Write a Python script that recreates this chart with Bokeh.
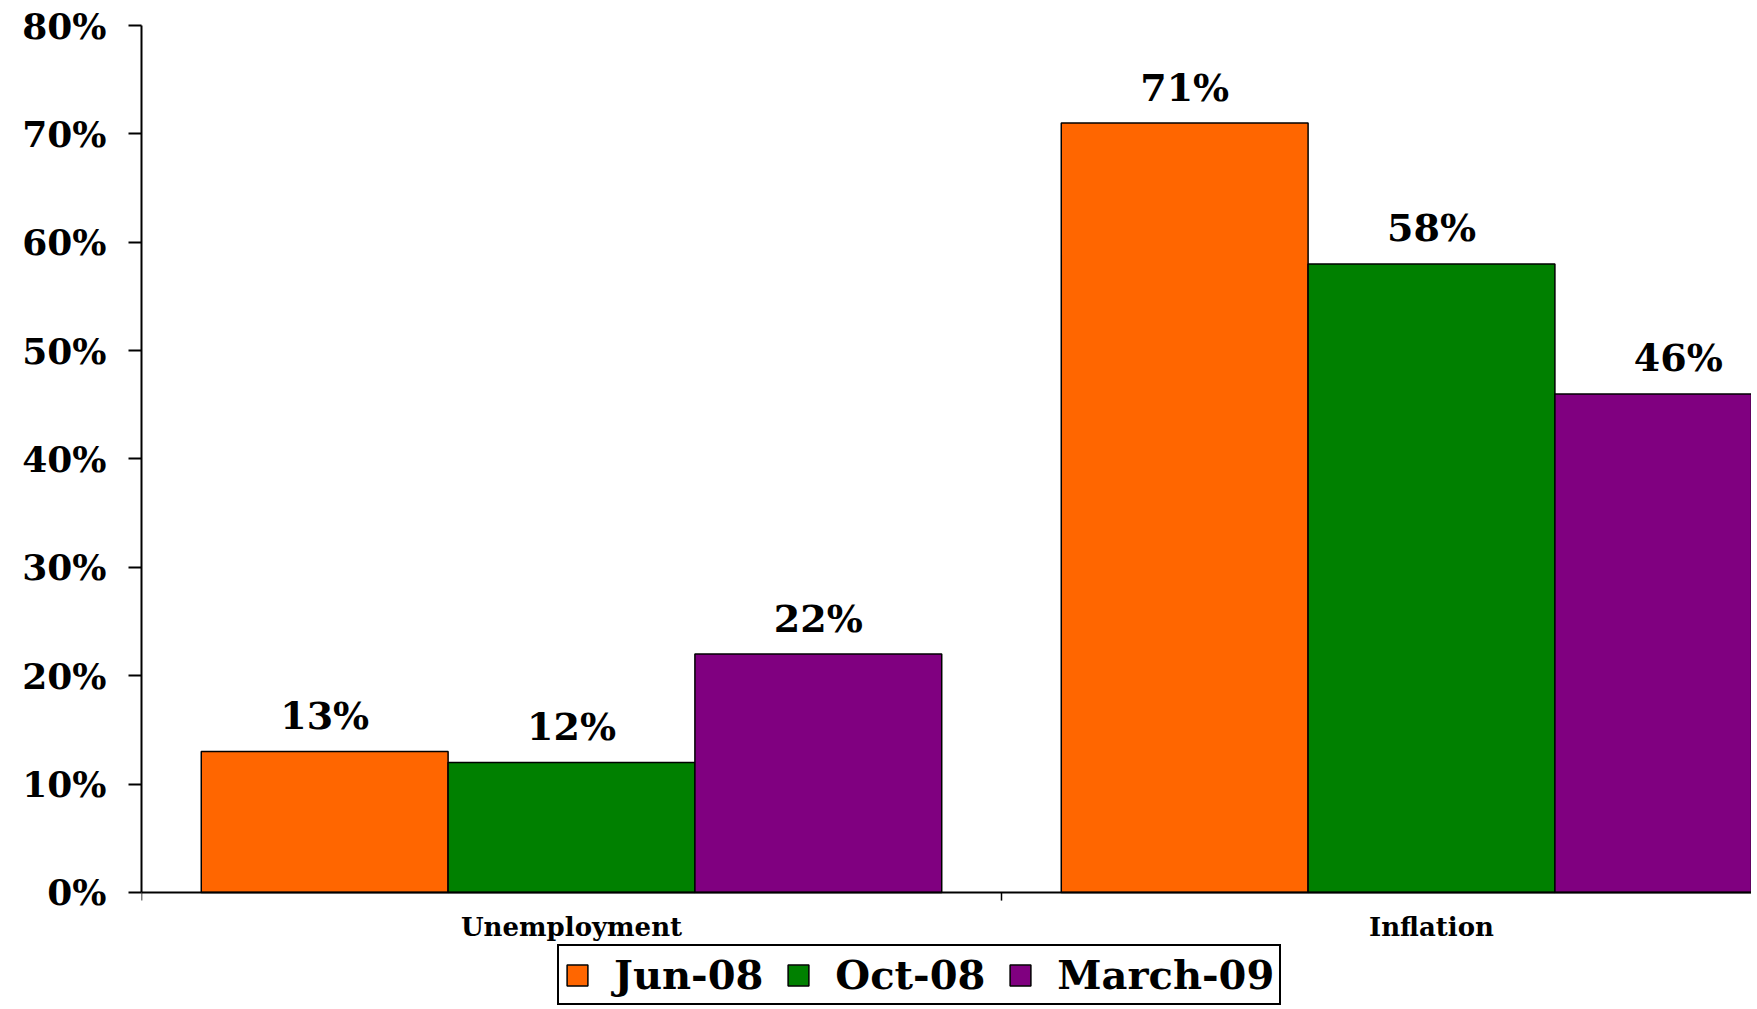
from bokeh.plotting import figure
from bokeh.models import Range1d, FixedTicker, PrintfTickFormatter, ColumnDataSource, Legend, LegendItem, Span
from bokeh.core.properties import value
from bokeh.embed import file_html
from bokeh.resources import INLINE

categories = ["Unemployment", "Inflation"]
series = ["Jun-08", "Oct-08", "March-09"]
jun08 = [13, 71]
oct08 = [12, 58]
mar09 = [22, 46]
y_ticks = [0, 10, 20, 30, 40, 50, 60, 70, 80]

colors = ["#FF6600", "#008000", "#800080"]
bar_w = 0.287
offsets = [-bar_w, 0.0, bar_w]

FONT = "DejaVu Serif"

# frame runs to the bottom of the canvas; the value axis starts at 0 (page y ~892)
p = figure(width=1751, height=1005,
           x_range=Range1d(0, 1610 / 860), y_range=Range1d(-10.43, 80),
           x_axis_location=None,
           output_backend="svg", toolbar_location=None,
           min_border_left=141, min_border_top=25, min_border_right=0, min_border_bottom=0)
p.outline_line_color = None
p.xgrid.visible = False
p.ygrid.visible = False
p.background_fill_color = "white"
p.border_fill_color = "white"

renderers = []
for name, vals, col, off in zip(series, [jun08, oct08, mar09], colors, offsets):
    src = ColumnDataSource(dict(
        x=[i + 0.5 + off for i in range(len(categories))],
        top=vals,
        lab=[f"{v}%" for v in vals],
    ))
    r = p.vbar(x="x", top="top", width=bar_w, bottom=0, source=src,
               fill_color=col, line_color="black", line_width=1.5)
    p.text(x="x", y="top", text="lab", source=src, text_align="center",
           text_baseline="alphabetic", y_offset=-36,
           text_font=value(FONT), text_font_style="bold", text_font_size="38px",
           text_color="black")
    renderers.append(r)

# category axis: baseline, boundary ticks and category names
p.add_layout(Span(location=0, dimension="width", line_color="black", line_width=2))
bounds = list(range(len(categories) + 1))
tick_len = 0.75
p.segment(x0=bounds, y0=[0] * len(bounds), x1=bounds, y1=[-tick_len] * len(bounds),
          line_color="black", line_width=1.5)
p.text(x=[i + 0.5 for i in range(len(categories))], y=[0] * len(categories), text=categories,
       text_align="center", text_baseline="top", y_offset=20,
       text_font=value(FONT), text_font_style="bold", text_font_size="26px",
       text_color="black")

# y axis
yax = p.yaxis[0]
yax.bounds = (0, 80)
yax.ticker = FixedTicker(ticks=y_ticks)
yax.formatter = PrintfTickFormatter(format="%d%%")
yax.major_tick_out = 13
yax.major_tick_in = 0
yax.minor_tick_out = 0
yax.minor_tick_in = 0
yax.axis_line_color = "black"
yax.axis_line_width = 2
yax.major_tick_line_color = "black"
yax.major_tick_line_width = 2
yax.major_label_standoff = 22
yax.major_label_text_font = FONT
yax.major_label_text_font_style = "bold"
yax.major_label_text_font_size = "36px"
yax.major_label_text_color = "black"

legend = Legend(items=[LegendItem(label=s, renderers=[r]) for s, r in zip(series, renderers)],
                orientation="horizontal", location=(416, 0))
legend.label_text_font = FONT
legend.label_text_font_style = "bold"
legend.label_text_font_size = "40px"
legend.label_text_color = "black"
legend.glyph_width = 26
legend.glyph_height = 26
legend.label_standoff = 24
legend.spacing = 22
legend.padding = 5
legend.margin = 0
legend.border_line_color = "black"
legend.border_line_alpha = 1.0
legend.border_line_width = 2
legend.background_fill_color = "white"
legend.background_fill_alpha = 1.0
p.add_layout(legend, "center")

open("out.html", "w").write(file_html(p, INLINE))
